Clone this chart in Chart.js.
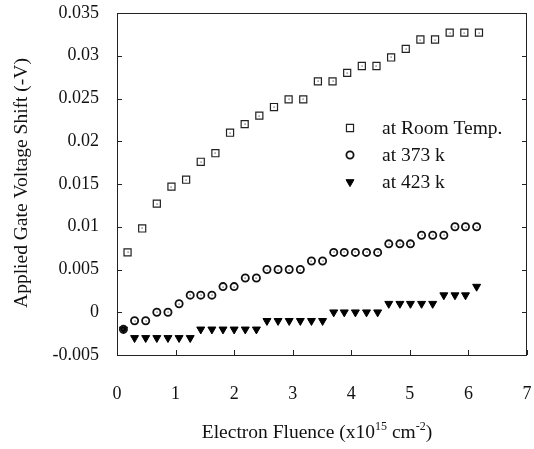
<!DOCTYPE html>
<html>
<head>
<meta charset="utf-8">
<script src="https://cdn.jsdelivr.net/npm/chart.js@4.4.0/dist/chart.umd.min.js"></script>
<style>
  html, body { margin: 0; padding: 0; background: #fff; }
</style>
</head>
<body>
<canvas id="chart" width="534" height="449"></canvas>
<script>
// room temperature series
const roomX = [0.18, 0.43, 0.68, 0.93, 1.18, 1.43, 1.68, 1.93, 2.18, 2.43, 2.68, 2.93, 3.18,
               3.43, 3.68, 3.93, 4.18, 4.43, 4.68, 4.93, 5.18, 5.43, 5.68, 5.93, 6.18];
const roomY = [0.007, 0.0098, 0.0127, 0.0147, 0.0155, 0.0176, 0.0186, 0.021, 0.022, 0.023, 0.024, 0.0249, 0.0249,
               0.027, 0.027, 0.028, 0.0288, 0.0288, 0.0298, 0.0308, 0.0319, 0.0319, 0.0327, 0.0327, 0.0327];

// 373 k and 423 k share the same fluence points
const hotX = [0.11, 0.30, 0.49, 0.68, 0.87, 1.06, 1.25, 1.43, 1.62, 1.81, 2.00, 2.19, 2.38, 2.56, 2.75, 2.94, 3.13,
              3.32, 3.51, 3.70, 3.88, 4.07, 4.26, 4.45, 4.64, 4.83, 5.01, 5.20, 5.39, 5.58, 5.77, 5.95, 6.14];
const y373 = [-0.002, -0.001, -0.001, 0, 0, 0.001, 0.002, 0.002, 0.002, 0.003, 0.003, 0.004, 0.004, 0.005, 0.005, 0.005, 0.005,
              0.006, 0.006, 0.007, 0.007, 0.007, 0.007, 0.007, 0.008, 0.008, 0.008, 0.009, 0.009, 0.009, 0.01, 0.01, 0.01];
const y423 = [-0.002, -0.003, -0.003, -0.003, -0.003, -0.003, -0.003, -0.002, -0.002, -0.002, -0.002, -0.002, -0.002,
              -0.001, -0.001, -0.001, -0.001, -0.001, -0.001, 0, 0, 0, 0, 0, 0.001, 0.001, 0.001, 0.001, 0.001,
              0.002, 0.002, 0.002, 0.003];

const seriesLabels = ['at Room Temp.', 'at 373 k', 'at 423 k'];
const yTitle = 'Applied Gate Voltage Shift (-V)';

const FONT = '"Liberation Serif", "Times New Roman", serif';
const pts = (xs, ys) => xs.map((x, i) => ({ x: x, y: ys[i] }));

// frame, inward ticks, titles, legend and the little centre dots
const decor = {
  id: 'decor',
  afterDatasetsDraw(chart) {
    const ctx = chart.ctx;
    const a = chart.chartArea;
    const x = chart.scales.x, y = chart.scales.y;
    ctx.save();

    // centre dots on the open markers
    ctx.fillStyle = '#555';
    [0, 1].forEach(di => {
      chart.getDatasetMeta(di).data.forEach(p => {
        ctx.fillRect(Math.round(p.x) - 0.5, Math.round(p.y) - 0.5, 1.2, 1.2);
      });
    });

    ctx.strokeStyle = '#222';
    ctx.lineWidth = 1;
    ctx.strokeRect(a.left + 0.5, a.top + 0.5, a.right - a.left - 1, a.bottom - a.top);

    ctx.beginPath();
    x.ticks.forEach(t => {
      const px = Math.round(x.getPixelForValue(t.value)) + 0.5;
      ctx.moveTo(px, a.bottom);
      ctx.lineTo(px, a.bottom - 5);
    });
    y.ticks.forEach(t => {
      const py = Math.round(y.getPixelForValue(t.value)) + 0.5;
      ctx.moveTo(a.left, py);
      ctx.lineTo(a.left + 5, py);
      ctx.moveTo(a.right, py);
      ctx.lineTo(a.right - 5, py);
    });
    ctx.stroke();

    // x title with superscripts
    ctx.fillStyle = '#111';
    ctx.textBaseline = 'alphabetic';
    ctx.textAlign = 'left';
    const parts = [['Electron Fluence (x10', 0], ['15', 1], [' cm', 0], ['-2', 1], [')', 0]];
    const fontFor = s => s ? '12px ' + FONT : '19.5px ' + FONT;
    let total = 0;
    parts.forEach(p => { ctx.font = fontFor(p[1]); total += ctx.measureText(p[0]).width; });
    let cx = 317 - total / 2;
    const base = 438;
    parts.forEach(p => {
      ctx.font = fontFor(p[1]);
      ctx.fillText(p[0], cx, p[1] ? base - 8 : base);
      cx += ctx.measureText(p[0]).width;
    });

    // y title
    ctx.save();
    ctx.translate(22, 183);
    ctx.rotate(-Math.PI / 2);
    ctx.font = '19.5px ' + FONT;
    ctx.textAlign = 'center';
    ctx.textBaseline = 'middle';
    ctx.fillText(yTitle, 0, 0);
    ctx.restore();

    // legend inside the plot
    const rows = [128, 155, 182];
    chart.data.datasets.forEach((ds, i) => {
      ctx.fillStyle = ds.backgroundColor;
      ctx.strokeStyle = ds.borderColor;
      ctx.lineWidth = ds.borderWidth;
      Chart.helpers.drawPoint(ctx, {
        pointStyle: ds.pointStyle, rotation: ds.pointRotation || 0,
        radius: ds.pointRadius, borderWidth: ds.borderWidth
      }, 350, rows[i]);
      ctx.fillStyle = '#111';
      ctx.font = '19.5px ' + FONT;
      ctx.textAlign = 'left';
      ctx.textBaseline = 'middle';
      ctx.fillText(ds.label, 382, rows[i] + 1);
    });
    ctx.restore();
  }
};

new Chart(document.getElementById('chart'), {
  type: 'scatter',
  data: {
    datasets: [{
      label: seriesLabels[0],
      data: pts(roomX, roomY),
      pointStyle: 'rect',
      pointRadius: 5,
      borderWidth: 1.2,
      borderColor: '#222',
      backgroundColor: 'rgba(0,0,0,0)'
    }, {
      label: seriesLabels[1],
      data: pts(hotX, y373),
      pointStyle: 'circle',
      pointRadius: 3.6,
      borderWidth: 1.8,
      borderColor: '#111',
      backgroundColor: 'rgba(0,0,0,0)'
    }, {
      label: seriesLabels[2],
      data: pts(hotX, y423),
      pointStyle: 'triangle',
      pointRotation: 180,
      pointRadius: 4.6,
      borderWidth: 1,
      borderColor: '#000',
      backgroundColor: '#000'
    }]
  },
  options: {
    responsive: false,
    animation: false,
    layout: { padding: { left: 0, right: 7, top: 13, bottom: 0 } },
    plugins: { legend: { display: false }, tooltip: { enabled: false } },
    scales: {
      x: {
        min: 0, max: 7,
        afterFit: s => { s.height = 94; s.paddingLeft = 0; s.paddingRight = 0; },
        grid: { display: false, drawTicks: false },
        border: { display: false },
        ticks: { stepSize: 1, padding: 28, color: '#111', font: { family: FONT, size: 18 } }
      },
      y: {
        min: -0.005, max: 0.035,
        afterFit: s => { s.width = 117; s.paddingTop = 0; s.paddingBottom = 0; },
        grid: { display: false, drawTicks: false },
        border: { display: false },
        ticks: {
          stepSize: 0.005, padding: 18, color: '#111', font: { family: FONT, size: 18 },
          callback: v => String(Number(v.toFixed(3)))
        }
      }
    }
  },
  plugins: [decor]
});
</script>
</body>
</html>
